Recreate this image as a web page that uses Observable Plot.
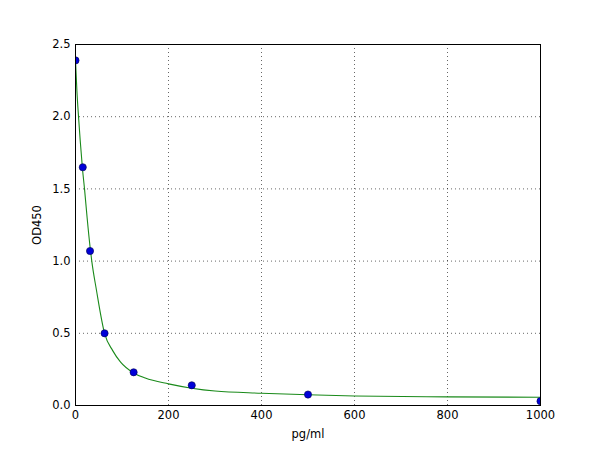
<!DOCTYPE html>
<html><head><meta charset="utf-8">
<script src="https://cdn.jsdelivr.net/npm/d3@7"></script>
<script src="https://cdn.jsdelivr.net/npm/@observablehq/plot@0.6"></script>
<style>body{margin:0;background:#fff}</style>
</head><body><div id="chart"></div>
<script>
// Standard points (pg/ml vs OD450)
const concentrations = [0, 15.625, 31.25, 62.5, 125, 250, 500, 1000];
const odValues = [2.39, 1.65, 1.07, 0.50, 0.23, 0.14, 0.076, 0.03];
// Fitted curve
const curveX = [0, 3, 6.5, 10, 15, 19.4, 25, 31.25, 35, 45, 62.5, 80, 97, 125, 150, 200, 250, 300, 400, 500, 600, 800, 1000];
const curveY = [2.39, 2.18, 2.0, 1.84, 1.64, 1.5, 1.30, 1.10, 1.0, 0.80, 0.5, 0.38, 0.30, 0.225, 0.19, 0.15, 0.12, 0.10, 0.085, 0.074, 0.066, 0.06, 0.057];
const xTicks = [0, 200, 400, 600, 800, 1000];
const yTicks = [0, 0.5, 1.0, 1.5, 2.0, 2.5];

const points = concentrations.map((x, i) => ({x, y: odValues[i]}));
const curve = curveX.map((x, i) => ({x, y: curveY[i]}));

const chart = Plot.plot({
  width: 600,
  height: 450,
  marginLeft: 75,
  marginRight: 60,
  marginTop: 44,
  marginBottom: 45,
  style: {fontFamily: "DejaVu Sans", fontSize: "11.5px", background: "#fff", color: "#000"},
  x: {domain: [0, 1000]},
  y: {domain: [0, 2.5]},
  marks: [
    Plot.gridX(xTicks.slice(1, -1), {stroke: "#000", strokeOpacity: 0.75, strokeDasharray: "1,3", strokeWidth: 0.8}),
    Plot.gridY(yTicks.slice(1, -1), {stroke: "#000", strokeOpacity: 0.75, strokeDasharray: "1,3", strokeWidth: 0.8}),
    Plot.axisX(xTicks, {tickSize: 0, tickPadding: 5, tickFormat: d3.format("d"), label: "pg/ml", labelAnchor: "center", labelArrow: "none", labelOffset: 32}),
    Plot.axisY(yTicks, {tickSize: 0, tickPadding: 5, tickFormat: d3.format(".1f"), label: "OD450", labelAnchor: "center", labelArrow: "none", labelOffset: 43}),
    Plot.line(curve, {x: "x", y: "y", stroke: "#1a8a1a", strokeWidth: 1.1, curve: "monotone-x"}),
    Plot.dot(points, {x: "x", y: "y", r: 3.6, fill: "#0000d8", stroke: "#000050", strokeWidth: 0.6, clip: true}),
    Plot.frame({stroke: "#000", strokeWidth: 1})
  ]
});
document.getElementById("chart").appendChild(chart);
</script>
</body></html>
